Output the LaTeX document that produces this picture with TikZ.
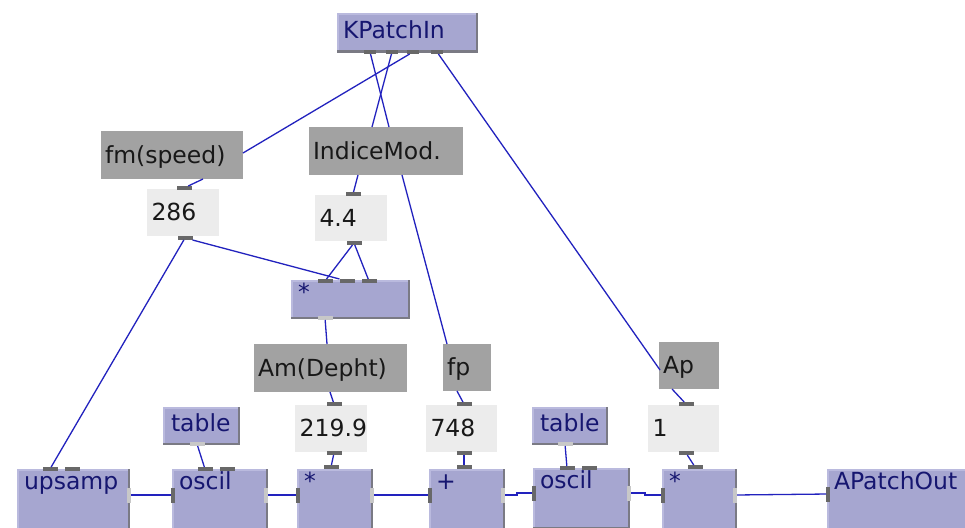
\documentclass[tikz,border=0pt]{standalone}
\usepackage{fontspec}
\newfontfamily\labfont{DejaVu Sans}
\usetikzlibrary{calc}

\definecolor{lav}{RGB}{166,166,208}
\definecolor{hil}{RGB}{186,186,222}
\definecolor{shd}{RGB}{122,122,132}
\definecolor{navy}{RGB}{22,22,112}
\definecolor{ink}{RGB}{24,24,24}
\definecolor{gbg}{RGB}{162,162,162}
\definecolor{lbg}{RGB}{236,236,236}
\definecolor{wirec}{RGB}{34,34,190}
\definecolor{pind}{RGB}{104,104,104}
\definecolor{pinl}{RGB}{200,200,200}

\newcommand\labsize{\labfont\fontsize{23.5pt}{27pt}\selectfont}

\tikzset{
  lbl/.style={anchor=north west, outer sep=0pt, inner ysep=0pt, align=left,
    font=\labsize},
  % raised lavender object box
  ubox/.style={lbl, fill=lav, text=navy, inner xsep=7pt,
    path picture={
      \fill[hil] (path picture bounding box.north west) rectangle ([xshift=2pt]path picture bounding box.south west);
      \fill[hil] (path picture bounding box.north west) rectangle ([yshift=-2pt]path picture bounding box.north east);
      \fill[shd] ([xshift=-2.5pt]path picture bounding box.north east) rectangle (path picture bounding box.south east);
      \fill[shd] ([yshift=2.5pt]path picture bounding box.south west) rectangle (path picture bounding box.south east);
    }},
  mid/.style={text height=17pt, text depth=7pt},
  topt/.style={text height=20pt},
  row/.style={ubox, topt, text depth=41pt},
  % name boxes and value boxes
  gbox/.style={lbl, fill=gbg, text=ink, inner xsep=4pt, text height=19pt, text depth=3pt},
  lbox/.style={lbl, fill=lbg, text=ink, inner xsep=4.5pt, text height=19pt, text depth=3pt},
  % connection ports
  pin/.style={fill=pind, minimum width=15pt, minimum height=4pt, inner sep=0pt, outer sep=0pt},
  lpin/.style={pin, fill=pinl},
  vpin/.style={pin, minimum width=4pt, minimum height=15pt},
  lvpin/.style={vpin, fill=pinl},
  wire/.style={draw=wirec, line width=1.3pt},
}

\begin{document}
\begin{tikzpicture}[x=1pt, y=-1pt]
\clip (0,0) rectangle (965,527);
\fill[white] (0,0) rectangle (965,527);

% ---- boxes ----
\node[ubox, mid, inner xsep=6pt, text width=129pt, minimum height=40pt] (kin) at (337,13) {KPatchIn};
\node[gbox, text width=134pt, minimum height=48pt] (fm) at (101,131) {fm(speed)};
\node[gbox, text width=146pt, minimum height=48pt] (imod) at (309,127) {IndiceMod.};
\node[lbox, text width=63pt, minimum height=47pt] (v286) at (147,189) {286};
\node[lbox, text width=63pt, minimum height=46pt] (v44) at (315,195) {4.4};
\node[ubox, topt, text depth=19pt, text width=105pt] (mul1) at (291,280) {*};
\node[gbox, text width=145pt, minimum height=48pt] (am) at (254,344) {Am(Depht)};
\node[gbox, text width=40pt, minimum height=47pt] (fp) at (443,344) {fp};
\node[gbox, text width=52pt, minimum height=47pt] (ap) at (659,342) {Ap};
\node[lbox, text width=63pt, minimum height=47pt] (v219) at (295,405) {};
\begin{scope}
  \clip (v219.north west) rectangle (v219.south east);
  \node[anchor=base west, inner sep=0pt, text=ink, font=\labsize] (t219) at ($(v219.west)+(4.5,8)$) {219.99};
\end{scope}
\node[lbox, text width=62pt, minimum height=47pt] (v748) at (426,405) {748};
\node[lbox, text width=62pt, minimum height=47pt] (v1) at (648,405) {1};
\node[ubox, mid, inner xsep=8pt, text width=61pt, minimum height=38pt] (tab1) at (163,407) {table};
\node[ubox, mid, inner xsep=8pt, text width=60pt, minimum height=38pt] (tab2) at (532,407) {table};

\node[row, text width=99pt] (ups) at (17,469) {upsamp};
\node[row, text width=82pt] (osc1) at (172,469) {oscil};
\node[row, text width=62pt] (mul2) at (297,469) {*};
\node[row, text width=62pt] (add) at (429,469) {+};
\node[row, text width=83pt] (osc2) at (533,468) {oscil};
\node[row, text width=61pt] (mul3) at (662,469) {*};
\node[row, text width=136pt] (pout) at (827,469) {APatchOut};

% ---- ports ----
\node[pin, minimum width=12pt] (k1) at (370,52) {};
\node[pin, minimum width=12pt] (k2) at (392,52) {};
\node[pin, minimum width=12pt] (k3) at (413,52) {};
\node[pin, minimum width=12pt] (k4) at (437,52) {};
\node[pin] (p286i) at (184,188) {};
\node[pin] (p286o) at (185,238) {};
\node[pin] (p44i) at (353,194) {};
\node[pin] (p44o) at (354,243) {};
\node[pin] (pm1a) at (325,281) {};
\node[pin] (pm1b) at (347,281) {};
\node[pin] (pm1c) at (369,281) {};
\node[lpin] (pm1o) at (325,318) {};
\node[pin] (p219i) at (334,404) {};
\node[pin] (p219o) at (334,453) {};
\node[pin] (pm2i) at (331,467) {};
\node[pin] (p748i) at (464,404) {};
\node[pin] (p748o) at (464,453) {};
\node[pin] (paddi) at (464,467) {};
\node[pin] (p1i) at (686,404) {};
\node[pin] (p1o) at (686,453) {};
\node[pin] (pm3i) at (695,467) {};
\node[pin] (pu1) at (50,469) {};
\node[pin] (pu2) at (72,469) {};
\node[lpin] (pt1o) at (197,444) {};
\node[pin] (po1a) at (205,469) {};
\node[pin] (po1b) at (227,469) {};
\node[lpin] (pt2o) at (565,444) {};
\node[pin] (po2a) at (567,468) {};
\node[pin] (po2b) at (589,468) {};
\node[lvpin] (puo) at (129,495) {};
\node[vpin] (po1l) at (173,495) {};
\node[lvpin] (po1r) at (266,495) {};
\node[vpin] (pm2l) at (298,495) {};
\node[lvpin] (pm2r) at (372,495) {};
\node[vpin] (paddl) at (430,495) {};
\node[lvpin] (paddr) at (503,495) {};
\node[vpin] (po2l) at (534,493) {};
\node[lvpin] (po2r) at (629,493) {};
\node[vpin] (pm3l) at (663,495) {};
\node[lvpin] (pm3r) at (735,495) {};
\node[vpin] (poutl) at (828,494) {};

% ---- free wire ends on the name boxes ----
\coordinate (im1) at (372,127);
\coordinate (im2) at (389,127);
\coordinate (imo) at (358,175);
\coordinate (imo2) at (402,175);
\coordinate (fmr) at (243,153);
\coordinate (fmo) at (203,179);
\coordinate (api) at (660,370);
\coordinate (apo) at (672,389);
\coordinate (fpi) at (447,344);
\coordinate (fpo) at (457,391);
\coordinate (amt) at (327,344);
\coordinate (amo) at (330,392);

% ---- wires ----
\draw[wire] (k1) -- (im2);
\draw[wire] (k2) -- (im1);
\draw[wire] (k3) -- (fmr);
\draw[wire] (k4) -- (api);
\draw[wire] (fmo) -- (p286i);
\draw[wire] (p286o) -- (pu1);
\draw[wire] (p286o) -- (pm1b);
\draw[wire] (imo) -- (p44i);
\draw[wire] (p44o) -- (pm1a);
\draw[wire] (p44o) -- (pm1c);
\draw[wire] (imo2) -- (fpi);
\draw[wire] (pm1o) -- (amt);
\draw[wire] (amo) -- (p219i);
\draw[wire] (p219o) -- (pm2i);
\draw[wire] (fpo) -- (p748i);
\draw[wire] (p748o) -- (paddi);
\draw[wire] (apo) -- (p1i);
\draw[wire] (p1o) -- (pm3i);
\draw[wire] (pt1o) -- (po1a);
\draw[wire] (pt2o) -- (po2a);
\draw[wire] (puo) -- (po1l);
\draw[wire] (po1r) -- (pm2l);
\draw[wire] (pm2r) -- (paddl);
\draw[wire] (paddr.east) -- ++(12,0) |- (po2l.west);
\draw[wire] (po2r.east) -- ++(14,0) |- (pm3l.west);
\draw[wire] (pm3r) -- (poutl);
\end{tikzpicture}
\end{document}
